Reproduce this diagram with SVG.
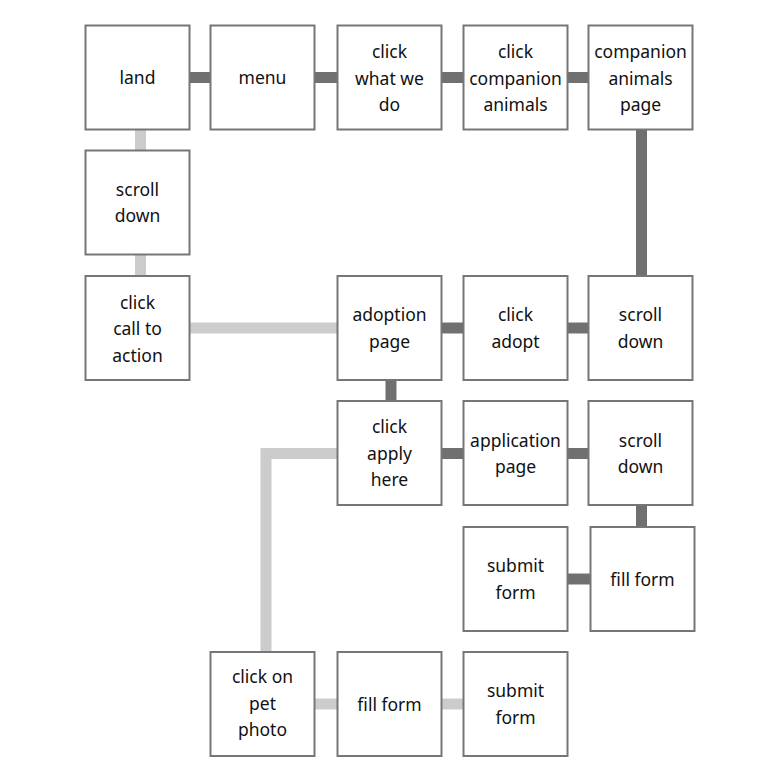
<svg xmlns="http://www.w3.org/2000/svg" width="781" height="781" viewBox="0 0 781 781">
<style>
.n rect{fill:#fff;stroke:#767676;stroke-width:2}
.n text{font-family:"Noto Sans","Open Sans",sans-serif;font-size:17.5px;fill:#111;text-anchor:middle}
.d{stroke:#707070;stroke-width:11;fill:none}
.l{stroke:#cccccc;stroke-width:11;fill:none}
</style>
<rect width="781" height="781" fill="#fff"/>
<g id="connectors">
<line class="d" x1="190" y1="77.5" x2="211" y2="77.5"/>
<line class="d" x1="315" y1="77.5" x2="338" y2="77.5"/>
<line class="d" x1="442" y1="77.5" x2="464" y2="77.5"/>
<line class="d" x1="567" y1="77.5" x2="589" y2="77.5"/>
<line class="l" x1="140.5" y1="129" x2="140.5" y2="151"/>
<line class="l" x1="140.5" y1="254" x2="140.5" y2="276"/>
<line class="d" x1="641.5" y1="129" x2="641.5" y2="276"/>
<line class="l" x1="190" y1="328" x2="338" y2="328"/>
<line class="d" x1="442" y1="328" x2="464" y2="328"/>
<line class="d" x1="567" y1="328" x2="589" y2="328"/>
<line class="d" x1="391" y1="380" x2="391" y2="401"/>
<line class="d" x1="442" y1="453.5" x2="464" y2="453.5"/>
<line class="d" x1="567" y1="453.5" x2="589" y2="453.5"/>
<polyline class="l" points="338,453.5 266,453.5 266,652"/>
<line class="d" x1="641.5" y1="505" x2="641.5" y2="527"/>
<line class="d" x1="567" y1="579" x2="591" y2="579"/>
<line class="l" x1="315" y1="704" x2="338" y2="704"/>
<line class="l" x1="442" y1="704" x2="464" y2="704"/>
</g>
<g id="n1" class="n"><rect x="85.5" y="25.5" width="104" height="104"/><text x="137.5" y="84">land</text></g>
<g id="n2" class="n"><rect x="210.5" y="25.5" width="104" height="104"/><text x="262.5" y="84">menu</text></g>
<g id="n3" class="n"><rect x="337.5" y="25.5" width="104" height="104"/><text x="389.5" y="58">click</text><text x="389.5" y="84.5">what we</text><text x="389.5" y="111">do</text></g>
<g id="n4" class="n"><rect x="463.5" y="25.5" width="104" height="104"/><text x="515.5" y="58">click</text><text x="515.5" y="84.5">companion</text><text x="515.5" y="111">animals</text></g>
<g id="n5" class="n"><rect x="588.5" y="25.5" width="104" height="104"/><text x="640.5" y="58">companion</text><text x="640.5" y="84.5">animals</text><text x="640.5" y="111">page</text></g>
<g id="n6" class="n"><rect x="85.5" y="150.5" width="104" height="104"/><text x="137.5" y="196">scroll</text><text x="137.5" y="222">down</text></g>
<g id="n7" class="n"><rect x="85.5" y="276" width="104" height="104"/><text x="137.5" y="308.5">click</text><text x="137.5" y="335">call to</text><text x="137.5" y="361.5">action</text></g>
<g id="n8" class="n"><rect x="337.5" y="276" width="104" height="104"/><text x="389.5" y="321">adoption</text><text x="389.5" y="347.5">page</text></g>
<g id="n9" class="n"><rect x="463.5" y="276" width="104" height="104"/><text x="515.5" y="321">click</text><text x="515.5" y="347.5">adopt</text></g>
<g id="n10" class="n"><rect x="588.5" y="276" width="104" height="104"/><text x="640.5" y="321">scroll</text><text x="640.5" y="347.5">down</text></g>
<g id="n11" class="n"><rect x="337.5" y="401" width="104" height="104"/><text x="389.5" y="433">click</text><text x="389.5" y="459.5">apply</text><text x="389.5" y="486">here</text></g>
<g id="n12" class="n"><rect x="463.5" y="401" width="104" height="104"/><text x="515.5" y="446.5">application</text><text x="515.5" y="473">page</text></g>
<g id="n13" class="n"><rect x="588.5" y="401" width="104" height="104"/><text x="640.5" y="446.5">scroll</text><text x="640.5" y="473">down</text></g>
<g id="n14" class="n"><rect x="463.5" y="527" width="104" height="104"/><text x="515.5" y="572">submit</text><text x="515.5" y="598.5">form</text></g>
<g id="n15" class="n"><rect x="590.5" y="527" width="104" height="104"/><text x="642.5" y="585.5">fill form</text></g>
<g id="n16" class="n"><rect x="210.5" y="652" width="104" height="104"/><text x="262.5" y="683">click on</text><text x="262.5" y="709.5">pet</text><text x="262.5" y="736">photo</text></g>
<g id="n17" class="n"><rect x="337.5" y="652" width="104" height="104"/><text x="389.5" y="711">fill form</text></g>
<g id="n18" class="n"><rect x="463.5" y="652" width="104" height="104"/><text x="515.5" y="697">submit</text><text x="515.5" y="723.5">form</text></g>
</svg>
